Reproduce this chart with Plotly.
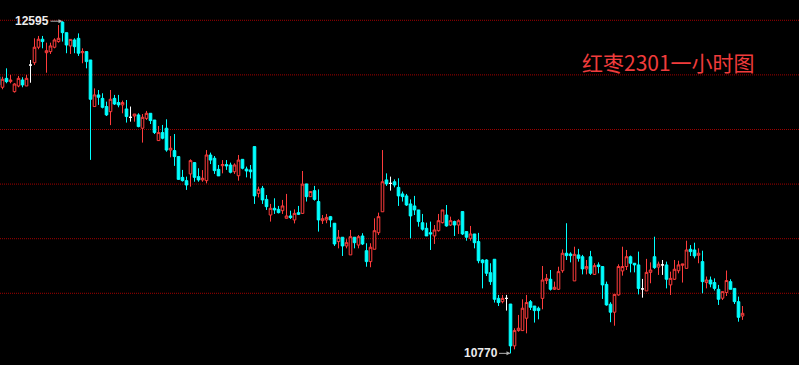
import plotly.graph_objects as go

# OHLC values (hourly candles)
open_ = [12290,12232,12281,12263,12208,12239,12272,12239,12354,12367,
         12452,12496,12422,12428,12452,12483,12590,12532,12459,12492,
         12501,12422,12428,12382,12126,12190,12171,12126,12098,12171,
         12148,12135,12113,12067,12074,12080,12007,12061,12089,12052,
         11939,11983,12007,11887,11884,11851,11737,11719,11756,11818,
         11741,11723,11719,11860,11842,11781,11801,11807,11805,11768,
         11746,11836,11783,11778,11906,11649,11677,11616,11530,11567,
         11561,11554,11512,11525,11503,11543,11539,11701,11631,11664,
         11604,11499,11503,11521,11485,11384,11408,11360,11311,11408,
         11365,11415,11334,11274,11342,11433,11548,11723,11704,11713,
         11682,11646,11635,11591,11580,11558,11488,11457,11433,11415,
         11444,11488,11530,11475,11494,11475,11549,11439,11402,11426,
         11384,11283,11283,11213,11287,11072,11054,11072,11041,10811,
         10895,10895,10963,11054,11030,11018,11072,11170,11177,11122,
         11122,11224,11320,11316,11168,11311,11301,11234,11301,11204,
         11256,11247,11149,11040,10996,11091,11223,11247,11301,11265,
         11256,11124,11113,11215,11301,11244,11256,11256,11146,11177,
         11224,11254,11237,11342,11338,11309,11274,11159,11173,11159,
         11122,11073,11104,11164,11127,11054,10975]
high = [12299,12290,12336,12300,12254,12294,12287,12300,12382,12501,
        12514,12514,12477,12477,12501,12574,12595,12532,12495,12501,
        12528,12446,12428,12382,12226,12217,12199,12153,12217,12190,
        12190,12159,12162,12126,12085,12089,12085,12102,12089,12052,
        12019,12025,12056,11964,11975,11851,11778,11741,11836,11818,
        11787,11777,11887,11873,11854,11805,11832,11832,11818,11814,
        11860,11836,11796,11805,11906,11686,11690,11640,11591,11622,
        11580,11613,11646,11554,11561,11580,11772,11701,11659,11690,
        11671,11530,11536,11525,11485,11448,11408,11397,11448,11408,
        11420,11430,11375,11375,11512,11543,11887,11759,11741,11726,
        11732,11659,11646,11616,11635,11558,11536,11488,11494,11475,
        11536,11558,11585,11521,11499,11507,11549,11439,11470,11426,
        11432,11287,11287,11265,11287,11091,11091,11091,11041,10908,
        10981,11067,11091,11063,11030,11027,11250,11206,11228,11164,
        11246,11341,11485,11325,11356,11344,11311,11283,11333,11265,
        11270,11247,11164,11051,11094,11259,11356,11338,11307,11265,
        11329,11179,11289,11270,11411,11274,11283,11274,11219,11283,
        11279,11261,11389,11365,11378,11347,11334,11192,11192,11182,
        11146,11109,11225,11177,11127,11082,11030]
low = [12239,12221,12254,12254,12203,12232,12232,12239,12257,12354,
       12441,12446,12312,12415,12446,12477,12483,12419,12415,12419,
       12404,12364,12336,11833,12126,12135,12116,12074,12024,12135,
       12122,12089,12038,12043,12043,12012,11928,12052,12030,11975,
       11939,11946,11878,11847,11800,11723,11714,11668,11686,11713,
       11713,11713,11704,11810,11756,11745,11759,11778,11759,11756,
       11719,11781,11737,11731,11591,11627,11591,11558,11494,11536,
       11539,11536,11512,11508,11484,11530,11536,11604,11631,11609,
       11439,11481,11485,11463,11360,11347,11305,11347,11311,11347,
       11347,11365,11246,11243,11342,11420,11548,11690,11664,11682,
       11580,11604,11580,11402,11530,11466,11444,11415,11338,11371,
       11439,11484,11466,11470,11415,11426,11420,11389,11389,11347,
       11265,11127,11195,11146,11049,11030,11045,11005,10770,10792,
       10889,10895,10880,11008,10939,10957,11012,11151,11115,11118,
       11118,11213,11283,11270,11168,11274,11204,11204,11201,11201,
       11210,11069,11032,10941,10922,11087,11197,11228,11215,11215,
       11094,11076,11113,11155,11234,11201,11201,11127,11091,11173,
       11210,11159,11237,11305,11292,11265,11100,11127,11133,11115,
       11036,11063,11085,11122,11041,10944,10954]
close = [12245,12276,12263,12272,12250,12281,12245,12281,12354,12452,
         12496,12483,12433,12459,12492,12501,12532,12464,12495,12455,
         12419,12428,12373,12166,12190,12177,12122,12080,12166,12140,
         12135,12148,12071,12067,12085,12016,12067,12089,12049,11983,
         11983,11952,11887,11897,11851,11726,11719,11695,11829,11737,
         11723,11732,11860,11832,11774,11745,11807,11800,11765,11805,
         11832,11787,11772,11768,11635,11671,11613,11576,11567,11558,
         11543,11580,11525,11516,11539,11534,11700,11631,11659,11616,
         11503,11510,11517,11503,11371,11408,11360,11378,11411,11378,
         11411,11371,11274,11353,11444,11521,11713,11701,11704,11695,
         11635,11631,11585,11525,11558,11494,11452,11415,11426,11448,
         11499,11558,11470,11499,11475,11499,11426,11408,11426,11378,
         11279,11268,11210,11164,11067,11049,11072,11072,10811,10895,
         10908,11018,11049,11023,11005,11005,11173,11182,11122,11133,
         11219,11320,11307,11307,11314,11292,11234,11247,11210,11252,
         11247,11146,11036,10996,11094,11247,11247,11301,11265,11256,
         11127,11124,11215,11228,11241,11260,11256,11177,11182,11232,
         11256,11261,11338,11329,11305,11320,11164,11173,11151,11127,
         11067,11109,11170,11122,11054,10968,10990]

high_label = "12595"
low_label = "10770"
title_text = "红枣2301一小时图"
grid_levels = [12600, 12300, 12000, 11700, 11400, 11100]

idx = list(range(len(open_)))

def subset(cond):
    sel = [i for i in idx if cond(open_[i], close[i])]
    return (sel, [open_[i] for i in sel], [high[i] for i in sel],
            [low[i] for i in sel], [close[i] for i in sel])

RED = "#ff3c3c"
CYAN = "#00ffff"
WHITE = "#ffffff"

fig = go.Figure()

# dotted horizontal guide lines at the grid levels
for lvl in grid_levels:
    fig.add_shape(type="line", xref="paper", x0=0, x1=1, y0=lvl, y1=lvl,
                  line=dict(color="#a00000", width=1, dash="1px,1px"),
                  layer="below")

groups = [
    (lambda o, c: c > o, RED, "#000000"),
    (lambda o, c: c < o, CYAN, CYAN),
    (lambda o, c: c == o, WHITE, WHITE),
]
for cond, lc, fc in groups:
    xs, o, h, l, c = subset(cond)
    fig.add_trace(go.Candlestick(
        x=xs, open=o, high=h, low=l, close=c,
        increasing=dict(line=dict(color=lc, width=1), fillcolor=fc),
        decreasing=dict(line=dict(color=lc, width=1), fillcolor=fc),
        whiskerwidth=0, showlegend=False, hoverinfo="skip",
    ))

i_hi = high.index(max(high))
i_lo = low.index(min(low))

fig.add_annotation(x=i_hi, y=max(high), text=high_label, showarrow=True,
                   ax=-30.5, ay=0, arrowhead=2, arrowsize=0.8, arrowwidth=1,
                   arrowcolor="#b0b0b0", standoff=0,
                   font=dict(family="Liberation Sans", size=12, color="#ececec", weight="bold"))
fig.add_annotation(x=i_lo, y=min(low), text=low_label, showarrow=True,
                   ax=-30, ay=0, arrowhead=2, arrowsize=0.8, arrowwidth=1,
                   arrowcolor="#b0b0b0", standoff=0,
                   font=dict(family="Liberation Sans", size=12, color="#ececec", weight="bold"))
fig.add_annotation(x=668/799, y=1-62/365, xref="paper", yref="paper",
                   xanchor="center", yanchor="middle", showarrow=False,
                   text=title_text,
                   font=dict(family="Noto Sans CJK SC", size=21, color="#f03c3c"))

fig.update_layout(
    width=799, height=365,
    margin=dict(l=0, r=0, t=0, b=0),
    paper_bgcolor="#000000", plot_bgcolor="#000000",
    boxgap=0.35, boxgroupgap=0,
    xaxis=dict(range=[0.375, 200.125], showgrid=False, zeroline=False,
               showticklabels=False, ticks="", rangeslider=dict(visible=False),
               showline=False),
    yaxis=dict(range=[10706, 12711.5], showgrid=False, showticklabels=False,
               ticks="", zeroline=False, showline=False),
)

fig.write_html("out.html")
